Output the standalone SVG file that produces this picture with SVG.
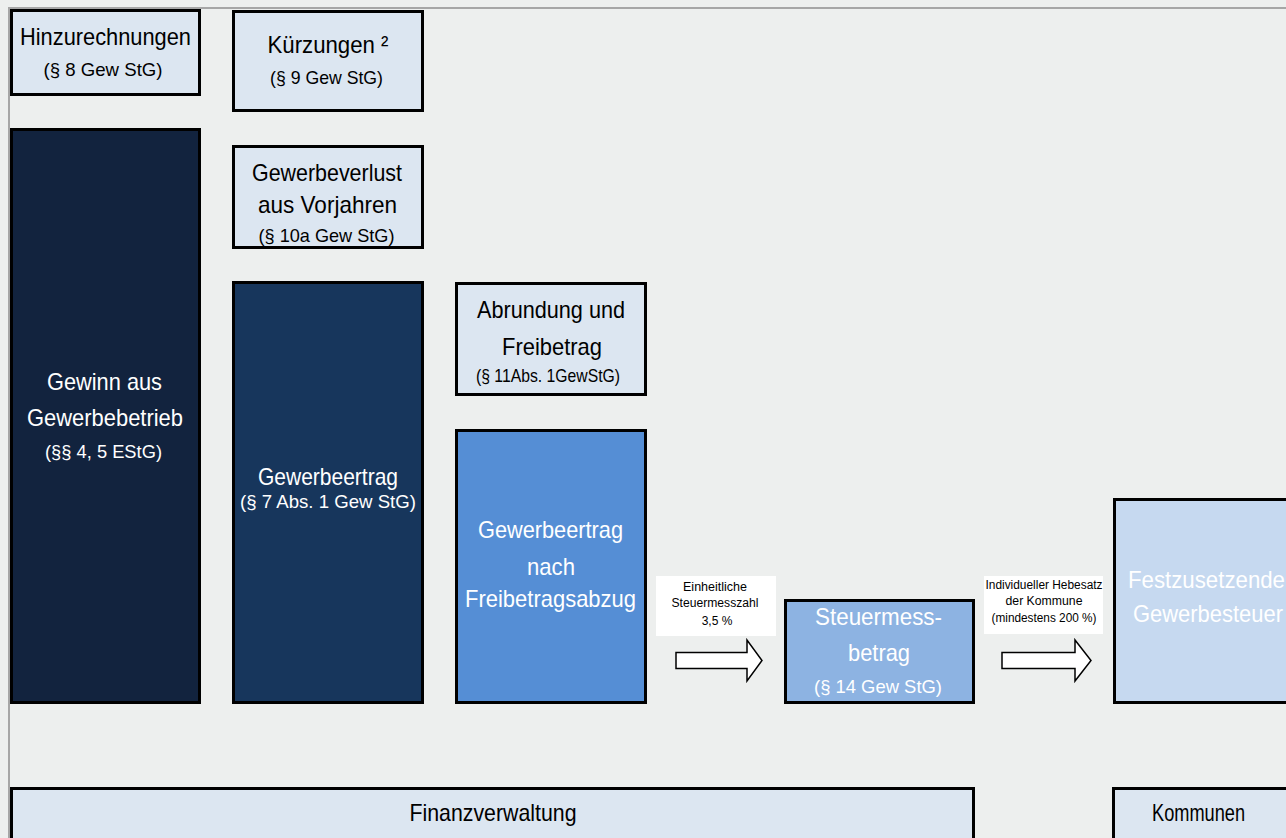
<svg xmlns="http://www.w3.org/2000/svg" width="1286" height="838" viewBox="0 0 1286 838">
<style>
.box{stroke:#000;stroke-width:3}
.light{fill:#dce6f1}
.t{font-family:"Liberation Sans",Arial,sans-serif;text-anchor:middle}
.big{font-size:24px}
.mid{font-size:19px}
.sm{font-size:12px}
.dark{fill:#000}
.white{fill:#fff}
.arrow{fill:#fff;stroke:#000;stroke-width:1.5}
</style>
<rect x="0" y="0" width="1286" height="838" fill="#edefee"/>
<rect x="8" y="7" width="1278" height="2" fill="#a6a6a6"/>
<rect x="8" y="7" width="2" height="831" fill="#a6a6a6"/>

<g id="hinzurechnungen">
<rect class="box light" x="11.5" y="10.5" width="188" height="84"/>
<text class="t big dark" x="105.5" y="45" textLength="171" lengthAdjust="spacingAndGlyphs">Hinzurechnungen</text>
<text class="t mid dark" x="103" y="76" textLength="119" lengthAdjust="spacingAndGlyphs">(§ 8 Gew StG)</text>
</g>
<g id="kuerzungen">
<rect class="box light" x="233.5" y="11.5" width="189" height="99"/>
<text class="t big dark" x="328" y="53" textLength="121" lengthAdjust="spacingAndGlyphs">Kürzungen ²</text>
<text class="t mid dark" x="326.5" y="84" textLength="113" lengthAdjust="spacingAndGlyphs">(§ 9 Gew StG)</text>
</g>
<g id="gewinn">
<rect class="box" fill="#12233e" x="11.5" y="129.5" width="188" height="573"/>
<text class="t big white" x="104.5" y="390" textLength="115" lengthAdjust="spacingAndGlyphs">Gewinn aus</text>
<text class="t big white" x="105" y="426" textLength="156" lengthAdjust="spacingAndGlyphs">Gewerbebetrieb</text>
<text class="t mid white" x="103.5" y="458" textLength="117" lengthAdjust="spacingAndGlyphs">(§§ 4, 5 EStG)</text>
</g>
<g id="gewerbeverlust">
<rect class="box light" x="233.5" y="146.5" width="189" height="101"/>
<text class="t big dark" x="327" y="181" textLength="150" lengthAdjust="spacingAndGlyphs">Gewerbeverlust</text>
<text class="t big dark" x="327.5" y="213" textLength="139" lengthAdjust="spacingAndGlyphs">aus Vorjahren</text>
<text class="t mid dark" x="326.5" y="242" textLength="136" lengthAdjust="spacingAndGlyphs">(§ 10a Gew StG)</text>
</g>
<g id="gewerbeertrag">
<rect class="box" fill="#17365c" x="233.5" y="282.5" width="189" height="420"/>
<text class="t big white" x="328" y="485" textLength="140" lengthAdjust="spacingAndGlyphs">Gewerbeertrag</text>
<text class="t mid white" x="328" y="508" textLength="176" lengthAdjust="spacingAndGlyphs">(§ 7 Abs. 1 Gew StG)</text>
</g>
<g id="abrundung">
<rect class="box light" x="456.5" y="283.5" width="189" height="111"/>
<text class="t big dark" x="551" y="318" textLength="148" lengthAdjust="spacingAndGlyphs">Abrundung und</text>
<text class="t big dark" x="552" y="355" textLength="100" lengthAdjust="spacingAndGlyphs">Freibetrag</text>
<text class="t mid dark" x="548" y="382" textLength="144" lengthAdjust="spacingAndGlyphs">(§ 11Abs. 1GewStG)</text>
</g>
<g id="nach-freibetrag">
<rect class="box" fill="#558ed5" x="456.5" y="430.5" width="189" height="272"/>
<text class="t big white" x="550.5" y="538" textLength="145" lengthAdjust="spacingAndGlyphs">Gewerbeertrag</text>
<text class="t big white" x="551" y="575" textLength="48" lengthAdjust="spacingAndGlyphs">nach</text>
<text class="t big white" x="550.5" y="607" textLength="171" lengthAdjust="spacingAndGlyphs">Freibetragsabzug</text>
</g>
<g id="steuermessbetrag">
<rect class="box" fill="#8db3e2" x="785.5" y="600.5" width="188" height="102"/>
<text class="t big white" x="878.5" y="625" textLength="127" lengthAdjust="spacingAndGlyphs">Steuermess-</text>
<text class="t big white" x="879" y="661" textLength="62" lengthAdjust="spacingAndGlyphs">betrag</text>
<text class="t mid white" x="878" y="693" textLength="128" lengthAdjust="spacingAndGlyphs">(§ 14 Gew StG)</text>
</g>
<g id="festzusetzende">
<rect class="box" fill="#c6d9f0" x="1114.5" y="499.5" width="180" height="203"/>
<text class="t big white" x="1128" y="588" style="text-anchor:start" textLength="157" lengthAdjust="spacingAndGlyphs">Festzusetzende</text>
<text class="t big white" x="1208" y="622" textLength="150" lengthAdjust="spacingAndGlyphs">Gewerbesteuer</text>
</g>
<g id="finanzverwaltung">
<rect class="box light" x="11.5" y="788.5" width="962" height="60"/>
<text class="t big dark" x="493" y="821" textLength="167" lengthAdjust="spacingAndGlyphs">Finanzverwaltung</text>
</g>
<g id="kommunen">
<rect class="box light" x="1113.5" y="788.5" width="180" height="60"/>
<text class="t big dark" x="1198.5" y="821" textLength="93" lengthAdjust="spacingAndGlyphs">Kommunen</text>
</g>

<g id="connectors">
<g id="label-messzahl">
<rect x="656" y="576" width="120" height="60" fill="#fff"/>
<text class="t sm dark" x="715" y="591" textLength="64" lengthAdjust="spacingAndGlyphs">Einheitliche</text>
<text class="t sm dark" x="715" y="607" textLength="87" lengthAdjust="spacingAndGlyphs">Steuermesszahl</text>
<text class="t sm dark" x="717" y="625">3,5 %</text>
</g>
<polygon class="arrow" points="676,652.5 747,652.5 747,640 762,660.5 747,681 747,668.5 676,668.5"/>
<g id="label-hebesatz">
<rect x="984" y="576" width="119" height="58" fill="#fff"/>
<text class="t sm dark" x="1044" y="589" textLength="117" lengthAdjust="spacingAndGlyphs">Individueller Hebesatz</text>
<text class="t sm dark" x="1044" y="605" textLength="77" lengthAdjust="spacingAndGlyphs">der Kommune</text>
<text class="t sm dark" x="1044" y="622" textLength="105" lengthAdjust="spacingAndGlyphs">(mindestens 200 %)</text>
</g>
<polygon class="arrow" points="1002,652.5 1075,652.5 1075,640 1091,660.5 1075,681 1075,668.5 1002,668.5"/>
</g>
</svg>
